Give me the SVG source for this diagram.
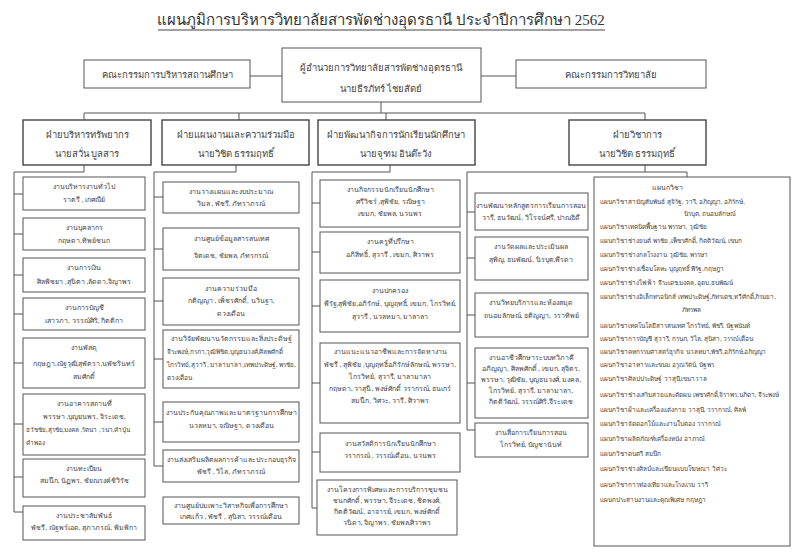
<svg xmlns="http://www.w3.org/2000/svg" width="800" height="554" viewBox="0 0 800 554">
<style>
text{font-family:"Liberation Serif","Noto Sans","DejaVu Sans",serif;fill:#444}
.t{font-size:7px;text-anchor:middle}
.tl{font-size:7px}
.s{font-size:6.4px}
.r{font-size:6.4px}
.h{font-size:9.5px;text-anchor:middle}
.ttl{font-size:15px;text-anchor:middle;fill:#333}
.box{fill:#fff;stroke:#555;stroke-width:1}
.dept{fill:#fff;stroke:#444;stroke-width:1.4}
.ln{fill:none;stroke:#555;stroke-width:1}
</style>
<rect width="800" height="554" fill="#fff"/>
<g id="title">
<text class="ttl" x="381" y="25">แผนภูมิการบริหารวิทยาลัยสารพัดช่างอุดรธานี ประจำปีการศึกษา 2562</text>
<line x1="158" y1="30" x2="605" y2="30" stroke="#444" stroke-width="1"/>
</g>
<g id="connectors" class="ln">
<path d="M250 76H282M481 76H516M381 102V113M84 113H645M84 113V120M239 113V120M386 113V120M645 113V120"/>
<path d="M84 165V172H14V512M14 194H23M14 234H23M14 275H23M14 314H23M14 363H23M14 424H23M14 477H23M14 512H23"/>
<path d="M236 165V172H154V466M154 197H163M154 249H163M154 301H163M154 359H163M154 422H163M154 466H163"/>
<path d="M390 165V172H312V508M312 203H320M312 252H320M312 306H320M312 383H320M312 452H320M312 508H317"/>
<path d="M645 165V172M467 172H687V177M467 172V430M467 212H475M467 258H475M467 315H475M467 383H475M467 430H475"/>
</g>
<g id="n-board"><rect class="box" x="84" y="60" width="166" height="28"/><text class="h" x="167" y="78">คณะกรรมการบริหารสถานศึกษา</text></g>
<g id="n-director"><rect class="box" x="282" y="48" width="199" height="54"/><text class="h" x="381" y="71">ผู้อำนวยการวิทยาลัยสารพัดช่างอุดรธานี</text><text class="h" x="381" y="92">นายธีรภัทร์ ไชยสัตย์</text></g>
<g id="n-college"><rect class="box" x="516" y="60" width="190" height="28"/><text class="h" x="611" y="78">คณะกรรมการวิทยาลัย</text></g>
<g id="d1"><rect class="dept" x="23" y="120" width="128" height="45"/><text class="h" x="87" y="138">ฝ่ายบริหารทรัพยากร</text><text class="h" x="87" y="157">นายสวั่น บูลสาร</text></g>
<g id="d2"><rect class="dept" x="162" y="120" width="147" height="45"/><text class="h" x="236" y="138">ฝ่ายแผนงานและความร่วมมือ</text><text class="h" x="236" y="157">นายวิชิต ธรรมฤทธิ์</text></g>
<g id="d3"><rect class="dept" x="318" y="120" width="157" height="45"/><text class="h" x="396" y="138">ฝ่ายพัฒนากิจการนักเรียนนักศึกษา</text><text class="h" x="396" y="157">นายจุฑม อินต๊ะวัง</text></g>
<g id="d4"><rect class="dept" x="569" y="120" width="137" height="45"/><text class="h" x="637" y="138">ฝ่ายวิชาการ</text><text class="h" x="637" y="157">นายวิชิต ธรรมฤทธิ์</text></g>
<g id="c1-1"><rect class="box" x="23" y="177" width="122" height="33"/><text class="t" x="84" y="189">งานบริหารงานทั่วไป</text><text class="t" x="84" y="202">ราตรี , เกศณีย์</text></g>
<g id="c1-2"><rect class="box" x="23" y="218" width="122" height="32"/><text class="t" x="84" y="230">งานบุคลากร</text><text class="t" x="84" y="243">กฤษดา,ทิพย์ชนก</text></g>
<g id="c1-3"><rect class="box" x="23" y="258" width="122" height="34"/><text class="t" x="84" y="270">งานการเงิน</text><text class="t" x="84" y="284">ศิลพิชยา ,สุนิตา ,ลัดดา,จิญาพร</text></g>
<g id="c1-4"><rect class="box" x="23" y="298" width="122" height="32"/><text class="t" x="84" y="310">งานการบัญชี</text><text class="t" x="84" y="323">เสาวภา, วรรณ์ศิริ, กิตติกา</text></g>
<g id="c1-5"><rect class="box" x="23" y="338" width="122" height="50"/><text class="t" x="84" y="350">งานพัสดุ</text><text class="t" x="84" y="366">กฤษฎา,ณัฐวุฒิ,สุพัตรา,นพัชรินทร์</text><text class="t" x="84" y="379">สมศักดิ์</text></g>
<g id="c1-6"><rect class="box" x="23" y="394" width="122" height="61"/><text class="t" x="84" y="406">งานอาคารสถานที่</text><text class="t" x="84" y="419">พรรษา ,บุญยนพร, จิระเดช,</text><text class="s" x="26" y="432">ธวัชชัย,สุรชัย,มงคล ,รัตนา ,วนา,คำปุ่น</text><text class="s" x="26" y="445">คำพอง</text></g>
<g id="c1-7"><rect class="box" x="23" y="459" width="122" height="38"/><text class="t" x="84" y="471">งานทะเบียน</text><text class="t" x="84" y="483">สมนึก, นัฏพร, ชัยณรงค์ชิวิรัช</text></g>
<g id="c1-8"><rect class="box" x="23" y="506" width="122" height="34"/><text class="t" x="84" y="518">งานประชาสัมพันธ์</text><text class="t" x="84" y="530">พัชรี, ณัฐพร์เอด, สุภาภรณ์, พิมพิกา</text></g>
<g id="c2-1"><rect class="box" x="163" y="182" width="136" height="31"/><text class="t" x="231" y="194">งานวางแผนและงบประมาณ</text><text class="t" x="231" y="206">วิมล , พัชรี, ภัทราภรณ์</text></g>
<g id="c2-2"><rect class="box" x="163" y="228" width="136" height="42"/><text class="t" x="231" y="241">งานศูนย์ข้อมูลสารสนเทศ</text><text class="t" x="231" y="258">จิตเดช, ชัยพล, ภัทรกรณ์</text></g>
<g id="c2-3"><rect class="box" x="163" y="278" width="136" height="47"/><text class="t" x="231" y="291">งานความร่วมมือ</text><text class="t" x="231" y="303">กติญญา , เพ็ชรศักดิ์, นวินฐา,</text><text class="t" x="231" y="316">ดวงเดือน</text></g>
<g id="c2-4"><rect class="box" x="163" y="330" width="136" height="58"/><text class="t" x="231" y="341">งานวิจัยพัฒนานวัตกรรมและสิ่งประดิษฐ์</text><text class="s" x="167" y="354">จีระพงษ์,กรภา,วุฒิพิชิต,บุญธนวงศ์,ศิลพศักดิ์</text><text class="s" x="167" y="367">ไกรวิทย์,สุวารี , มาลามาลา,เทพประดิษฐ์, พรชัย,</text><text class="s" x="167" y="380">ดวงเดือน</text></g>
<g id="c2-5"><rect class="box" x="163" y="402" width="136" height="40"/><text class="t" x="231" y="415">งานประกันคุณภาพและมาตรฐานการศึกษา</text><text class="t" x="231" y="428">นวลหมา, จณิษฐา, ดวงเดือน</text></g>
<g id="c2-6"><rect class="box" x="163" y="450" width="136" height="32"/><text class="t" x="231" y="462">งานส่งเสริมผลิตผลการค้าและประกอบธุรกิจ</text><text class="t" x="231" y="474">พัชรี , วิไล, ภัทราภรณ์</text></g>
<g id="c2-7"><rect class="box" x="163" y="497" width="136" height="27"/><text class="t" x="231" y="508">งานศูนย์บ่มเพาะวิสาหกิจเพื่อการศึกษา</text><text class="t" x="231" y="519">เกศแก้ว , พัชรี , สุนิสา, วรรณ์เดือน</text></g>
<g id="c3-1"><rect class="box" x="320" y="180" width="140" height="47"/><text class="t" x="390" y="192">งานกิจกรรมนักเรียนนักศึกษา</text><text class="t" x="390" y="204">ศรีวิชร์ ,สุพิชัย, รณิษฐา</text><text class="t" x="390" y="216">เขมก, ชัยพล, นวนพร</text></g>
<g id="c3-2"><rect class="box" x="320" y="232" width="140" height="41"/><text class="t" x="390" y="244">งานครูที่ปรึกษา</text><text class="t" x="390" y="257">อภิสิทธิ์, สุวารี , เขมก, ศิวาพร</text></g>
<g id="c3-3"><rect class="box" x="320" y="280" width="140" height="52"/><text class="t" x="390" y="293">งานปกครอง</text><text class="t" x="390" y="306">พีรัฐ,สุพิชัย,อภิรักษ์, บุญฤทธิ์, เขมก, ไกรวิทย์,</text><text class="t" x="390" y="319">สุวารี , นวลหมา, มาลาลา</text></g>
<g id="c3-4"><rect class="box" x="320" y="343" width="140" height="80"/><text class="t" x="390" y="354">งานแนะแนวอาชีพและการจัดหางาน</text><text class="t" x="390" y="367">พัชรี , สุพิชัย ,บุญฤทธิ์อภิรักษ์ลักษณ์, พรรษา,</text><text class="t" x="390" y="379">ไกรวิทย์, สุวารี, มาลามาลา</text><text class="t" x="390" y="391">กฤษดา, วาสุนี, พงษ์ศักดิ์ วรากรณ์, ธนเกร์</text><text class="t" x="390" y="403">สมนึก, วิศวะ, วารี, ศิวาพร</text></g>
<g id="c3-5"><rect class="box" x="320" y="433" width="140" height="39"/><text class="t" x="390" y="446">งานสวัสดิการนักเรียนนักศึกษา</text><text class="t" x="390" y="458">วรากรณ์ , วรรณ์เดือน, นวนพร</text></g>
<g id="c3-6"><rect class="box" x="317" y="480" width="140" height="55"/><text class="t" x="387" y="492">งานโครงการพิเศษและการบริการชุมชน</text><text class="t" x="387" y="503">ชนกศักดิ์, พรรษา, จีระเดช, ชิตพงศ์,</text><text class="t" x="387" y="514">กิตติวัฒน์, อาจารย์, เขมก, พงษ์ศักดิ์</text><text class="t" x="387" y="525">วนิดา, จิญาพร, ชัยพล,ศิวาพร</text></g>
<g id="c4-1"><rect class="box" x="475" y="193" width="113" height="37"/><text class="t" x="531" y="208">งานพัฒนาหลักสูตรการเรียนการสอน</text><text class="t" x="531" y="220">วารี, ธนวัฒน์, วิโรจน์ศรี, ปาณธิดี</text></g>
<g id="c4-2"><rect class="box" x="475" y="237" width="113" height="43"/><text class="t" x="531" y="249">งานวัดผลและประเมินผล</text><text class="t" x="531" y="262">สุพิญ, ธนพัฒน์, นิรบุต,พีรดา</text></g>
<g id="c4-3"><rect class="box" x="475" y="293" width="113" height="44"/><text class="t" x="531" y="305">งานวิทยบริการและห้องสมุด</text><text class="t" x="531" y="318">ถนอมลักษณ์, ธติญญา, วราทิพย์</text></g>
<g id="c4-4"><rect class="box" x="475" y="348" width="113" height="70"/><text class="t" x="531" y="360">งานอาชีวศึกษาระบบทวิภาคี</text><text class="t" x="531" y="371">อภิญญา, ศิลพศักดิ์ , เขมก, สุจิตร,</text><text class="t" x="531" y="382">พรรษา, วุฒิชัย, บุญธนวงศ์, มงคล,</text><text class="t" x="531" y="393">ไกรวิทย์, สุวารี, มาลามาลา,</text><text class="t" x="531" y="404">กิตติวัฒน์, วรรณ์ศิริ,จีระเดช</text></g>
<g id="c4-5"><rect class="box" x="475" y="423" width="113" height="34"/><text class="t" x="531" y="435">งานสื่อการเรียนการสอน</text><text class="t" x="531" y="447">ไกรวิทย์, บัญชานันท์</text></g>
<g id="c5">
<rect class="box" x="594" y="177" width="196" height="369"/>
<text class="tl" x="652" y="190">แผนกวิชา</text>
<text class="r" x="600" y="204">แผนกวิชาสามัญสัมพันธ์ สุจิรัฐ, วารี, อภิญญา, อภิรักษ์,</text>
<text class="r" x="684" y="216">นิรบุต, ถนอมลักษณ์</text>
<text class="r" x="600" y="229">แผนกวิชาเทคนิคพื้นฐาน  พรรษา, วุฒิชัย</text>
<text class="r" x="600" y="243">แผนกวิชาช่างยนต์  พรชัย ,เพ็ชรศักดิ์, กิตติวัฒน์,  เขมก</text>
<text class="r" x="600" y="257">แผนกวิชาช่างกลโรงงาน  วุฒิชัย, พรรษา</text>
<text class="r" x="600" y="271">แผนกวิชาช่างเชื่อมโลหะ  บุญฤทธิ์  พีรัฐ,กฤษฎา</text>
<text class="r" x="600" y="285">แผนกวิชาช่างไฟฟ้า  จีระเดช,มงคล, อุดม,ธนพัฒน์</text>
<text class="r" x="600" y="299">แผนกวิชาช่างอิเล็กทรอนิกส์  เทพประดิษฐ์,ภัทรเดช,ทวีศักดิ์,ภิรมยา,</text>
<text class="r" x="682" y="312">ภัทรพล</text>
<text class="r" x="600" y="328">แผนกวิชาเทคโนโลยีสารสนเทศ  ไกรวิทย์, พัชรี, นัฐพนันท์</text>
<text class="r" x="600" y="341">แผนกวิชาการบัญชี  สุวารี, กรนภ, วิไล, สุนิสา, วรรณ์เดือน</text>
<text class="r" x="600" y="354">แผนกวิชาคหกรรมศาสตร์ธุรกิจ  นวลหมา,พัชรี,อภิรักษ์,อภิญญา</text>
<text class="r" x="600" y="367">แผนกวิชาอาหารและขนม  อรุณรัตน์, นัฐพร</text>
<text class="r" x="600" y="381">แผนกวิชาศิลปประดิษฐ์  วาสุนี,เขมาวาล</text>
<text class="r" x="600" y="397">แผนกวิชาช่างเสริมสวยและตัดผม  เพชรศักดิ์,จิราพร,นภิดา, จีระพงษ์</text>
<text class="r" x="600" y="412">แผนกวิชาผ้าและเครื่องแต่งกาย  วาสุนี, วรากรณ์, ศิลพ์</text>
<text class="r" x="600" y="426">แผนกวิชาจัดดอกไม้และงานใบตอง  วรากรณ์</text>
<text class="r" x="600" y="441">แผนกวิชาผลิตภัณฑ์เครื่องหนัง  อาภรณ์</text>
<text class="r" x="600" y="456">แผนกวิชาดนตรี  สมนึก</text>
<text class="r" x="600" y="471">แผนกวิชาช่างศิลป์และเขียนแบบโฆษณา  วิศวะ</text>
<text class="r" x="600" y="487">แผนกวิชาการท่องเที่ยวและโรงแรม  วารี</text>
<text class="r" x="600" y="502">แผนกประสานงานและคุณพิเศษ  กฤษฎา</text>
</g>
</svg>
